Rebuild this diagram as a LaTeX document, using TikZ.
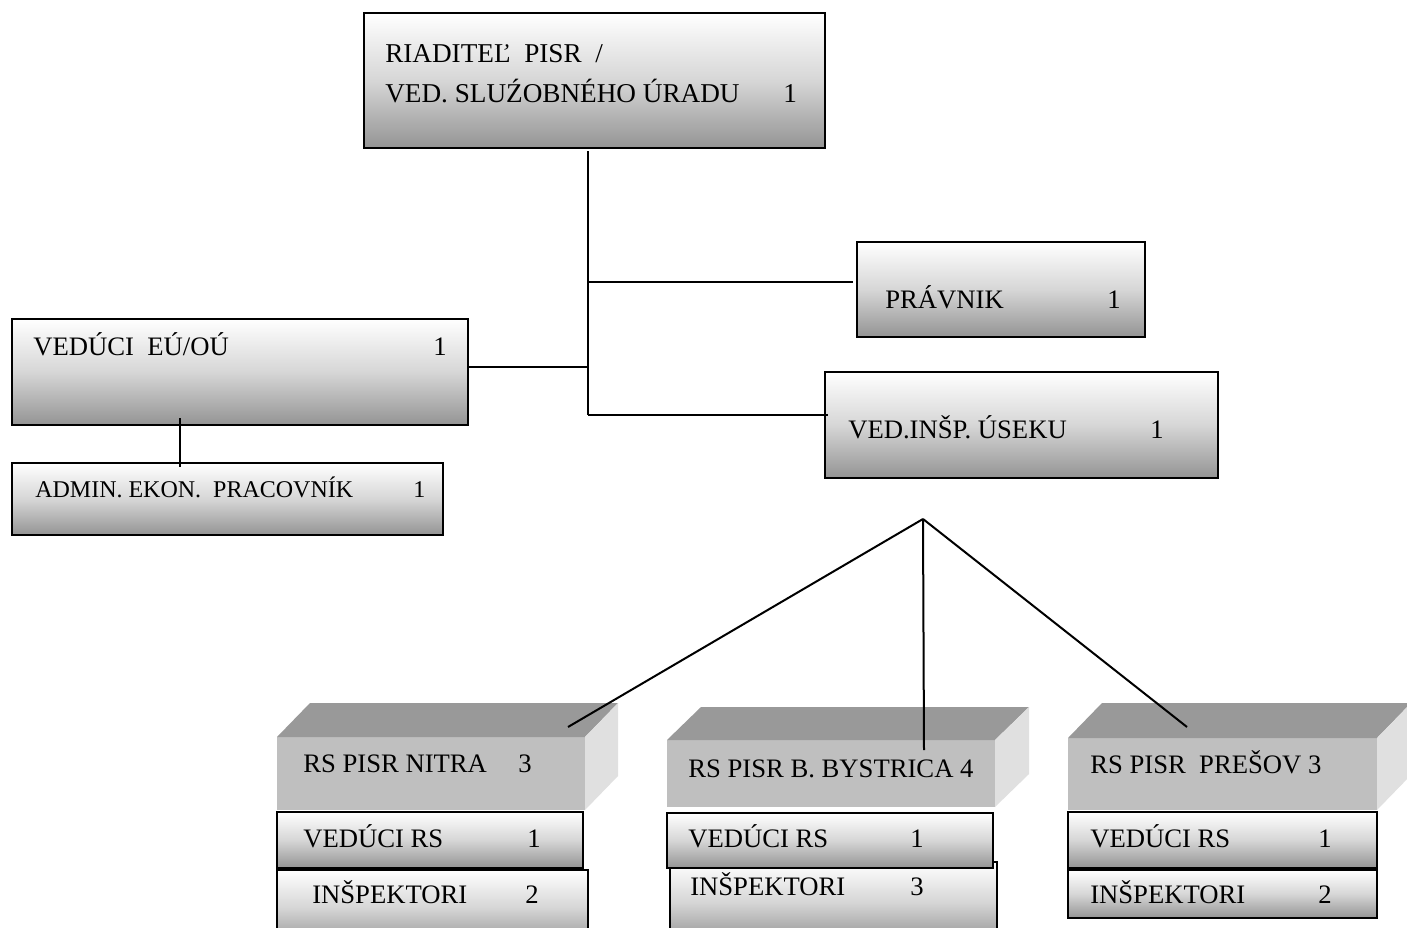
\documentclass[tikz,border=0pt]{standalone}
\usepackage{fontspec}
\setmainfont{Liberation Serif}
\begin{document}
\begin{tikzpicture}[x=0.75pt,y=-0.75pt,
  sz/.style 2 args={minimum width=#1*0.75pt, minimum height=#2*0.75pt},
  gbox/.style={draw=black, line width=1.5pt, top color=white, bottom color=black!42, middle color=black!16, anchor=north west, inner sep=0pt, outer sep=0pt},
  front/.style={fill=black!25, anchor=north west, inner sep=0pt, outer sep=0pt},
  topface/.style={fill=black!40},
  sideface/.style={fill=black!12},
  txt/.style={anchor=base west, inner sep=0pt, font=\fontsize{20}{24}\selectfont},
  btxt/.style={anchor=base west, inner sep=0pt, font=\fontsize{20.4}{24.5}\selectfont},
  stxt/.style={anchor=base west, inner sep=0pt, font=\fontsize{18}{22}\selectfont},
  conn/.style={line width=1.5pt}]
\fill[white] (0,0) rectangle (1407,928);
\useasboundingbox (0,0) rectangle (1407,928);

% upper boxes
\node[gbox, sz={461}{135}] (top) at (364,13) {};
\node[gbox, sz={288}{95}] (pravnik) at (857,242) {};
\node[gbox, sz={456}{106}] (veduci) at (12,319) {};
\node[gbox, sz={431}{72}] (admin) at (12,463) {};
\node[gbox, sz={393}{106}] (vedinsp) at (825,372) {};

% 3D boxes
\node[front, sz={308}{73}] (nitra) at (277,737) {};
\fill[topface] (nitra.north west) -- ++(33,-34) -- ++(308,0) -- (nitra.north east) -- cycle;
\fill[sideface] (nitra.north east) -- ++(33,-34) -- ++(0,73) -- (nitra.south east) -- cycle;

\node[front, sz={328}{67}] (byst) at (667,740) {};
\fill[topface] (byst.north west) -- ++(34,-33) -- ++(328,0) -- (byst.north east) -- cycle;
\fill[sideface] (byst.north east) -- ++(34,-33) -- ++(0,67) -- (byst.south east) -- cycle;

\node[front, sz={309}{72}] (presov) at (1068,738) {};
\fill[topface] (presov.north west) -- ++(34,-35) -- ++(309,0) -- (presov.north east) -- cycle;
\fill[sideface] (presov.north east) -- ++(34,-35) -- ++(0,72) -- (presov.south east) -- cycle;

% lower boxes
\node[gbox, sz={311}{75}] (nitraInsp) at (277,870) {};
\node[gbox, sz={306}{56}] (nitraVed) at (277,812) {};
\node[gbox, sz={327}{80}] (bystInsp) at (670,862) {};
\node[gbox, sz={326}{55}] (bystVed) at (667,813) {};
\node[gbox, sz={309}{48}] (presovInsp) at (1068,870) {};
\node[gbox, sz={309}{56}] (presovVed) at (1068,812) {};

% connectors
\coordinate (trunkTop) at (588,151);
\coordinate (jP) at (588,282);
\coordinate (jV) at (588,367);
\coordinate (jI) at (588,415);
\coordinate (pEnd) at (853,282);
\coordinate (iEnd) at (828,415);
\coordinate (aTop) at (180,418);
\coordinate (aBot) at (180,467);
\coordinate (apex) at (923,519);
\coordinate (nEnd) at (568,727);
\coordinate (bEnd) at (924,750);
\coordinate (rEnd) at (1187,727);
\draw[conn] (trunkTop) -- (jI);
\draw[conn] (jP) -- (pEnd);
\draw[conn] (veduci.east |- jV) -- (jV);
\draw[conn] (jI) -- (iEnd);
\draw[conn] (aTop) -- (aBot);
\draw[conn] (apex) -- (nEnd);
\draw[conn] (apex) -- (bEnd);
\draw[conn] (apex) -- (rEnd);

% texts
\node[btxt] (t1) at (385,62) {RIADITEĽ\ \ PISR\ \ /};
\node[btxt] (t2) at (385,102) {VED. SLUŹOBNÉHO ÚRADU};
\node[btxt] (t2n) at (783,102) {1};
\node[txt] (t3) at (33,355) {VEDÚCI\ \ EÚ/OÚ};
\node[txt] (t3n) at (433,355) {1};
\node[stxt] (t4) at (35,497) {ADMIN. EKON.\ \ PRACOVNÍK};
\node[stxt] (t4n) at (413,497) {1};
\node[txt] (t5) at (885,308) {PRÁVNIK};
\node[txt] (t5n) at (1107,308) {1};
\node[txt] (t6) at (848,438) {VED.INŠP. ÚSEKU};
\node[txt] (t6n) at (1150,438) {1};

\node[txt] (n1) at (303,772) {RS PISR NITRA};
\node[txt] (n1n) at (518,772) {3};
\node[txt] (n2) at (303,847) {VEDÚCI RS};
\node[txt] (n2n) at (527,847) {1};
\node[txt] (n3) at (312,903) {INŠPEKTORI};
\node[txt] (n3n) at (525,903) {2};

\node[txt] (b1) at (688,777) {RS PISR B. BYSTRICA 4};
\node[txt] (b2) at (688,847) {VEDÚCI RS};
\node[txt] (b2n) at (910,847) {1};
\node[txt] (b3) at (690,895) {INŠPEKTORI};
\node[txt] (b3n) at (910,895) {3};

\node[txt] (p1) at (1090,773) {RS PISR\ \ PREŠOV 3};
\node[txt] (p2) at (1090,847) {VEDÚCI RS};
\node[txt] (p2n) at (1318,847) {1};
\node[txt] (p3) at (1090,903) {INŠPEKTORI};
\node[txt] (p3n) at (1318,903) {2};
\end{tikzpicture}
\end{document}
